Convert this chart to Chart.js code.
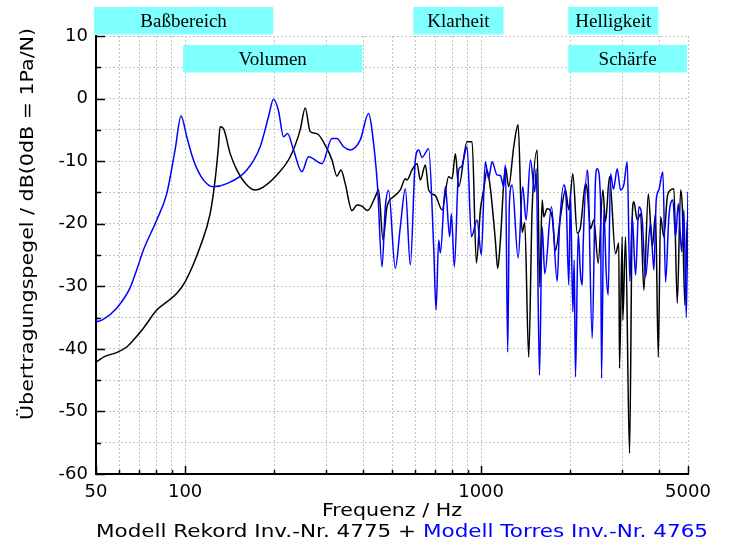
<!DOCTYPE html>
<html><head><meta charset="utf-8">
<script src="https://cdn.jsdelivr.net/npm/chart.js@4.4.0/dist/chart.umd.min.js"></script>
<style>html,body{margin:0;padding:0;background:#fff;}#wrap{width:730px;height:543px;position:relative;}</style>
</head><body><div id="wrap"><canvas id="c" width="730" height="543"></canvas></div>
<script>
// ---- data (frequency in Hz, level in dB) ----
const seriesNames = ['Modell Rekord Inv.-Nr. 4775', 'Modell Torres Inv.-Nr. 4765'];
const rekord = [
[50,-42.1],[53.6,-41.2],[58.7,-40.6],[63.5,-39.7],[66.9,-38.6],[72.3,-36.7],[80.2,-33.8],[86.7,-32.5],[93.8,-31.1],[100,-29.3],
[112.4,-23.7],[121.5,-18.4],[126.3,-13.0],[129.6,-7.7],[131.3,-4.5],[134.8,-4.8],[142,-8.8],[149.5,-11.4],[161.7,-13.8],[172.4,-14.6],
[184,-14.1],[204.2,-12.2],[226.5,-9.3],[244.8,-5.0],[254.6,-1.5],[264.6,-5.3],[278.8,-5.6],[301.5,-8.0],[313.5,-9.8],[325.8,-12.4],
[336.1,-11.4],[347.5,-13.6],[366.2,-17.9],[380.7,-17.0],[395.8,-17.2],[413.4,-17.9],[438.9,-15.7],[450.4,-14.6],[466.3,-22.6],[480.9,-17.3],
[506.2,-15.7],[533.4,-14.6],[554.6,-12.8],[561.9,-13.0],[584.2,-11.4],[607.4,-10.4],[623.3,-13.0],[648.1,-10.6],[664.9,-14.6],[700.6,-15.5],
[738,-17.8],[776.9,-12.5],[797.9,-12.8],[818.6,-8.8],[839.8,-14.1],[896.7,-6.9],[932.4,-6.9],[963.9,-26.3],[994.4,-17.8],[1020,-14.6],
[1047,-11.4],[1075,-14.4],[1117,-22.6],[1138,-27.1],[1162,-22.6],[1208,-10.9],[1239,-14.1],[1289,-7.7],[1334,-4.2],[1376,-21.4],
[1404,-19.8],[1448,-41.3],[1487,-17.8],[1547,-8.2],[1578,-30.1],[1608,-16.2],[1628,-18.9],[1672,-17.6],[1738,-18.9],[1783,-24.3],
[1854,-18.9],[1928,-14.6],[1978,-17.8],[2041,-12.0],[2112,-21.5],[2167,-20.5],[2223,-15.4],[2253,-13.6],[2283,-14.6],[2342,-20.8],
[2403,-19.4],[2487,-26.3],[2578,-14.6],[2632,-19.7],[2715,-12.5],[2845,-24.8],[2919,-23.1],[2935,-43.1],[2997,-22.1],[3011,-35.4],
[3076,-22.1],[3173,-56.7],[3240,-18.9],[3281,-16.5],[3369,-19.4],[3457,-18.4],[3547,-30.6],[3671,-15.2],[3787,-23.7],[3885,-18.4],
[3968,-41.3],[4039,-18.9],[4144,-22.1],[4256,-15.7],[4366,-14.6],[4480,-14.4],[4600,-32.7],[4721,-14.6],[4783,-17.3],[4881,-33.0],
[4973,-19.4],[5000,-27.0]
];
const torres = [
[50,-35.7],[52.9,-35.3],[58.7,-33.5],[65.1,-30.3],[68.6,-27.4],[72.3,-24.2],[80.2,-19.4],[86.7,-15.2],[92.5,-8.2],[96.9,-2.8],
[101.3,-6.1],[106.7,-9.8],[115.3,-13.0],[124.6,-14.1],[138.3,-13.6],[161.7,-11.4],[179.3,-7.7],[191.3,-2.9],[198.9,-0.1],[206.7,-1.9],
[215,-6.1],[221.8,-5.6],[232.4,-8.2],[248.1,-11.7],[261.2,-9.3],[290,-10.4],[313.5,-6.4],[325.8,-6.4],[343,-7.7],[361.4,-8.2],
[390.6,-6.6],[416.7,-2.4],[427.8,-5.0],[446.9,-14.1],[462.6,-26.9],[474.7,-17.3],[486.9,-14.7],[513,-27.1],[533.4,-20.5],[554.6,-14.4],
[576.6,-26.6],[599.5,-9.8],[615.1,-8.2],[631.6,-9.4],[664.9,-8.0],[691.4,-23.7],[704.4,-33.8],[718.9,-22.6],[728.4,-24.7],[757.2,-14.1],
[783,-22.1],[793.5,-18.4],[812.3,-26.9],[839.8,-11.4],[857.8,-10.9],[896.7,-7.7],[927.3,-22.1],[969.1,-19.4],[1002,-25.0],[1033,-10.1],
[1060,-12.8],[1089,-10.1],[1132,-12.2],[1162,-12.3],[1192,-14.1],[1208,-10.6],[1230,-40.5],[1246,-16.8],[1273,-13.8],[1334,-25.5],
[1382,-14.1],[1419,-19.4],[1468,-9.8],[1518,-14.9],[1535,-11.2],[1575,-44.2],[1608,-20.5],[1641,-28.0],[1729,-17.3],[1807,-29.2],
[1840,-20.5],[1902,-13.8],[1938,-16.2],[1978,-29.8],[2004,-14.9],[2041,-34.1],[2063,-25.8],[2084,-44.5],[2128,-21.5],[2167,-28.2],
[2196,-29.8],[2213,-23.1],[2283,-11.4],[2301,-13.0],[2373,-38.3],[2435,-13.0],[2467,-11.2],[2532,-16.2],[2552,-44.7],[2598,-17.8],
[2647,-28.0],[2688,-31.4],[2737,-12.0],[2800,-14.5],[2883,-11.2],[2958,-14.6],[3035,-13.8],[3117,-10.1],[3180,-29.2],[3240,-18.9],
[3325,-28.2],[3412,-17.3],[3503,-19.4],[3593,-28.5],[3737,-19.9],[3834,-27.4],[3906,-16.2],[3986,-14.6],[4112,-11.7],[4199,-29.3],
[4309,-18.9],[4445,-16.2],[4539,-22.1],[4636,-16.8],[4758,-24.5],[4843,-17.8],[4934,-35.0],[5000,-14.9]
];
const xTickValues = [50,60,70,80,90,100,200,300,400,500,600,700,800,900,1000,2000,3000,4000,5000];
const xTickLabels = {50:'50',100:'100',1000:'1000',5000:'5000'};
const yMin = -60, yMax = 10, yStep = 5, yLabelStep = 10;
const bandNames = ['Baßbereich','Volumen','Klarheit','Helligkeit','Schärfe'];
const bandFrom  = [50,100,600,2000,2000];
const bandTo    = [200,400,1200,4000,5000];
const bandRow   = [0,1,0,0,1];
const xTitle = 'Frequenz / Hz';
const yTitle = 'Übertragungspegel / dB(0dB = 1Pa/N)';

// ---- styling / layout ----
const SANS = '"DejaVu Sans", Verdana, sans-serif';
const SERIF = '"Liberation Serif", "Times New Roman", serif';

function drawFitted(ctx, parts, cx, by, targetW, font, rotate){
  ctx.save();
  ctx.font = font;
  const widths = parts.map(p => ctx.measureText(p.text).width);
  const total = widths.reduce((a,b)=>a+b,0);
  const sx = targetW / total;
  ctx.translate(cx, by);
  if (rotate) ctx.rotate(-Math.PI/2);
  ctx.scale(sx, 1);
  ctx.textAlign = 'left';
  ctx.textBaseline = 'alphabetic';
  let x = -total/2;
  parts.forEach((p,i)=>{ ctx.fillStyle = p.color; ctx.fillText(p.text, x, 0); x += widths[i]; });
  ctx.restore();
}

const decor = {
  id: 'decor',
  afterDraw(chart){
    const ctx = chart.ctx, xs = chart.scales.x, ys = chart.scales.y, a = chart.chartArea;
    ctx.save();
    // inward tick marks
    ctx.strokeStyle = '#000'; ctx.lineWidth = 1.5;
    ys.ticks.forEach(t => {
      const y = Math.round(ys.getPixelForValue(t.value)) + 0.5;
      const len = (Math.round(t.value) % yLabelStep === 0) ? 9 : 5;
      ctx.beginPath(); ctx.moveTo(a.left, y); ctx.lineTo(a.left + len, y); ctx.stroke();
    });
    xs.ticks.forEach(t => {
      const x = Math.round(xs.getPixelForValue(t.value)) + 0.5;
      const len = xTickLabels[t.value] ? 8 : 4;
      ctx.beginPath(); ctx.moveTo(x, a.bottom); ctx.lineTo(x, a.bottom - len); ctx.stroke();
    });
    // frequency band boxes
    const rowTop = [7, 45], boxH = 27.5;
    ctx.font = '19px ' + SERIF;
    ctx.textAlign = 'center'; ctx.textBaseline = 'middle';
    bandNames.forEach((name, i) => {
      const x1 = xs.getPixelForValue(bandFrom[i]) - 2;
      const x2 = xs.getPixelForValue(bandTo[i]) - 1;
      const y1 = rowTop[bandRow[i]];
      ctx.fillStyle = '#80ffff';
      ctx.fillRect(x1, y1, x2 - x1, boxH);
      ctx.fillStyle = '#000';
      ctx.fillText(name, (x1 + x2) / 2, y1 + boxH / 2 + 1);
    });
    ctx.restore();
    // axis titles and caption
    drawFitted(ctx, [{text: xTitle, color:'#000'}], 392, 516, 140, '17px ' + SANS, false);
    drawFitted(ctx, [{text: yTitle, color:'#000'}], 33, 224, 392, '18px ' + SANS, true);
    drawFitted(ctx, [{text: seriesNames[0] + ' + ', color:'#000'}, {text: seriesNames[1], color:'#0000ff'}],
               402, 536.5, 612, '18px ' + SANS, false);
  }
};

const gridCommon = { color:'#c4c4c4', lineWidth:1, drawTicks:false };
const borderCommon = { display:true, color:'#000', width:2, dash:[2,2] };

new Chart(document.getElementById('c').getContext('2d'), {
  type: 'line',
  data: {
    datasets: [
      { label: seriesNames[0], data: rekord.map(p => ({x:p[0], y:p[1]})), borderColor:'#000000', borderWidth:1.5,
        pointRadius:0, cubicInterpolationMode:'monotone', fill:false, order:1 },
      { label: seriesNames[1], data: torres.map(p => ({x:p[0], y:p[1]})), borderColor:'#0000ff', borderWidth:1.5,
        pointRadius:0, cubicInterpolationMode:'monotone', fill:false, order:0 }
    ]
  },
  options: {
    responsive:false, animation:false, devicePixelRatio:1,
    layout: { padding: { left:0, right:42, top:36, bottom:0 } },
    plugins: { legend:{display:false}, tooltip:{enabled:false}, title:{display:false} },
    scales: {
      x: {
        type:'logarithmic', min:50, max:5000,
        afterBuildTicks: s => { s.ticks = xTickValues.map(v => ({value:v})); },
        afterFit: s => { s.height = 69; },
        ticks: { autoSkip:false, maxRotation:0, minRotation:0, padding:8, color:'#000',
                 font:{family:SANS, size:18}, callback: v => (xTickLabels[v] !== undefined ? xTickLabels[v] : '') },
        grid: gridCommon, border: borderCommon
      },
      y: {
        min:yMin, max:yMax,
        afterFit: s => { s.width = 96; },
        ticks: { stepSize:yStep, padding:8, color:'#000', font:{family:SANS, size:18},
                 callback: v => (Math.round(v) % yLabelStep === 0 ? String(v) : '') },
        grid: gridCommon, border: borderCommon
      }
    }
  },
  plugins: [decor]
});
</script></body></html>
